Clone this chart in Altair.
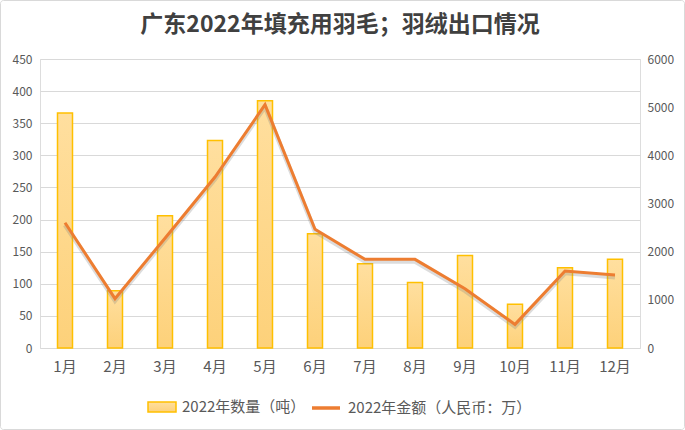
import altair as alt
import pandas as pd

months = ["1月", "2月", "3月", "4月", "5月", "6月", "7月", "8月", "9月", "10月", "11月", "12月"]
qty = [366, 89, 206, 323, 385, 178, 131, 102, 144, 68, 125, 138]
amount = [2600, 1025, 2280, 3550, 5050, 2465, 1840, 1840, 1230, 490, 1600, 1515]
qty_name = "2022年数量（吨）"
amt_name = "2022年金额（人民币：万）"
left_ticks = [0, 50, 100, 150, 200, 250, 300, 350, 400, 450]
right_ticks = [0, 1000, 2000, 3000, 4000, 5000, 6000]

df = pd.DataFrame({"month": months, "qty": qty, "amount": amount,
                   "s1": qty_name, "s2": amt_name})

FONT = "Noto Sans CJK SC"
GRAY = "#595959"

x = alt.X("month:N", sort=months, title=None,
          scale=alt.Scale(paddingInner=0.7, paddingOuter=0.35),
          axis=alt.Axis(labelAngle=0, labelFontSize=15, labelColor=GRAY, labelFont=FONT,
                        ticks=False, domain=False, grid=False, labelPadding=11))

grad = alt.Gradient(gradient="linear",
                    stops=[alt.GradientStop(color="#FFDF9F", offset=0),
                           alt.GradientStop(color="#FDD17A", offset=1)],
                    x1=0, x2=0, y1=0, y2=1)

bars = alt.Chart(df).mark_bar(fill=grad, strokeWidth=1.5).encode(
    x=x,
    y=alt.Y("qty:Q", title=None,
            scale=alt.Scale(domain=[0, 450], nice=False),
            axis=alt.Axis(values=left_ticks, labelFontSize=12, labelColor=GRAY, labelFont=FONT,
                          ticks=False, domain=False, gridColor="#D9D9D9", labelPadding=8)),
    stroke=alt.Stroke("s1:N", scale=alt.Scale(range=["#FFC000"]),
                      legend=alt.Legend(title=None, orient="none", legendX=107, legendY=333,
                                        symbolType="M-1,-0.36H1V0.36H-1Z", symbolSize=784,
                                        symbolFillColor="#FFD98E", symbolStrokeWidth=1.5,
                                        labelFontSize=15, labelColor=GRAY, labelFont=FONT,
                                        labelOffset=5, padding=0, labelLimit=300)),
)

right_axis = alt.Axis(orient="right", values=right_ticks, format="d", labelFontSize=12,
                      labelColor=GRAY, labelFont=FONT, ticks=False, domain=False, grid=False,
                      labelPadding=7)
yscale2 = alt.Scale(domain=[0, 6000], nice=False)

shadow = alt.Chart(df).transform_calculate(
    amount_s="datum.amount - 45"
).mark_line(strokeWidth=4.5, color="#808080", opacity=0.28).encode(
    x=x,
    y=alt.Y("amount_s:Q", title=None, scale=yscale2, axis=right_axis),
)

line = alt.Chart(df).mark_line(strokeWidth=3).encode(
    x=x,
    y=alt.Y("amount:Q", title=None, scale=yscale2, axis=right_axis),
    stroke=alt.Stroke("s2:N", scale=alt.Scale(range=["#ED7D31"]),
                      legend=alt.Legend(title=None, orient="none", legendX=270, legendY=333,
                                        symbolType="stroke", symbolSize=784, symbolStrokeWidth=3.5,
                                        labelFontSize=15, labelColor=GRAY, labelFont=FONT,
                                        labelOffset=6, padding=0, labelLimit=300)),
)

border = alt.Chart(alt.Data(values=[{}])).mark_rect(
    fill="transparent", stroke="#D9D9D9", strokeWidth=1, cornerRadius=3
).encode(x=alt.value(-39.5), x2=alt.value(644.5), y=alt.value(-58.5), y2=alt.value(370.5))

lines = alt.layer(shadow, line)

chart = alt.layer(bars, lines, border).resolve_scale(
    y="independent", stroke="independent"
).resolve_legend(stroke="independent").properties(
    width=600, height=289,
    autosize=alt.AutoSizeParams(type="none"),
    padding={"left": 40, "top": 59, "right": 45, "bottom": 82},
    title=alt.Title("广东2022年填充用羽毛；羽绒出口情况", fontSize=23, font=FONT,
                    fontWeight="bold", color="#404040", anchor="middle", offset=0, dy=37),
).configure_view(stroke=None, strokeWidth=0).configure_axis(domain=False).configure(
    background="white")

chart.save("out.html", embed_options={"renderer": "svg", "actions": False})
